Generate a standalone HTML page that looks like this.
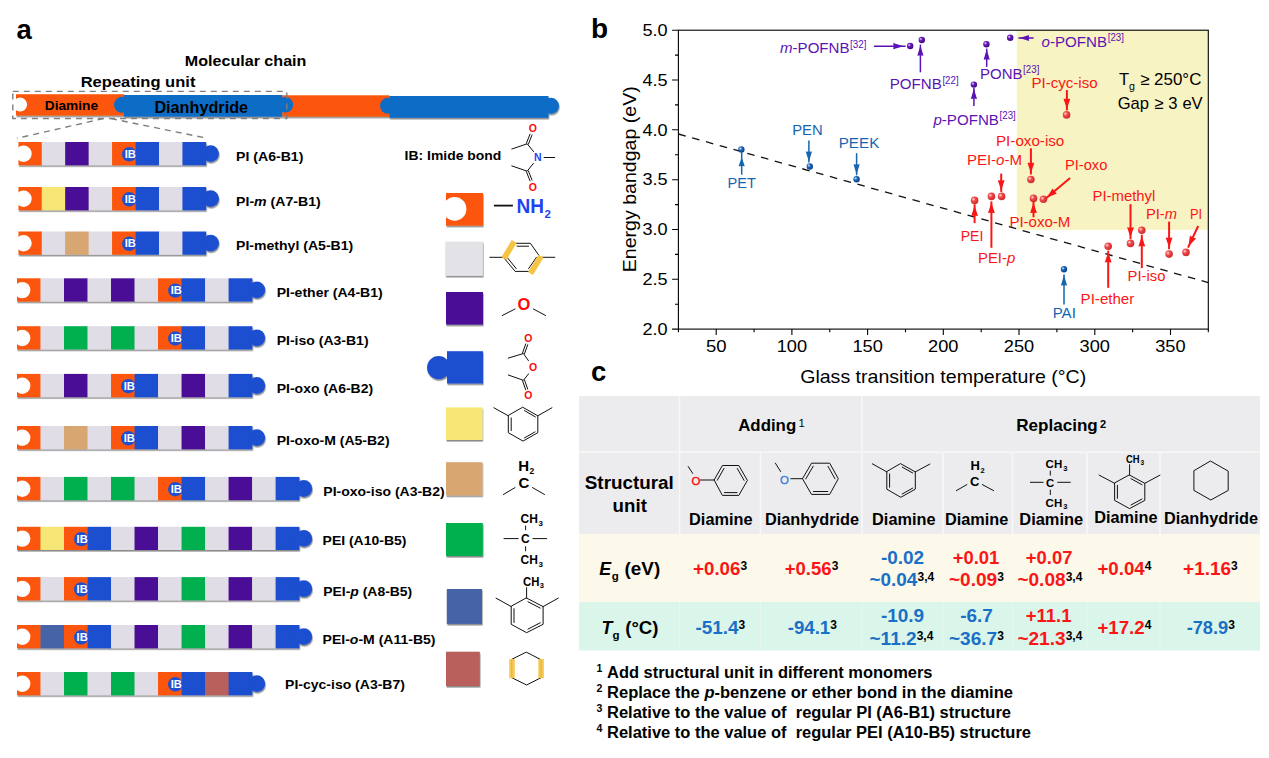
<!DOCTYPE html>
<html><head><meta charset="utf-8"><title>figure</title>
<style>
html,body{margin:0;padding:0;background:#fff;}
body{width:1269px;height:758px;overflow:hidden;font-family:"Liberation Sans",sans-serif;}
svg{display:block;font-family:"Liberation Sans",sans-serif;}
.b{font-weight:bold}
.i{font-style:italic}
</style></head><body>
<svg width="1269" height="758" viewBox="0 0 1269 758">
<defs>
<filter id="sh" x="-5%" y="-20%" width="110%" height="150%"><feDropShadow dx="0.6" dy="1.6" stdDeviation="0.7" flood-color="#000" flood-opacity="0.45"/></filter>
<radialGradient id="gp" cx="35%" cy="35%" r="65%"><stop offset="0" stop-color="#e8d8ff"/><stop offset="0.4" stop-color="#6a1ab8"/><stop offset="1" stop-color="#400a88"/></radialGradient>
<radialGradient id="gb" cx="35%" cy="35%" r="65%"><stop offset="0" stop-color="#d8ecff"/><stop offset="0.4" stop-color="#1b64b8"/><stop offset="1" stop-color="#0d4690"/></radialGradient>
<radialGradient id="gr" cx="35%" cy="35%" r="65%"><stop offset="0" stop-color="#ffe0e0"/><stop offset="0.4" stop-color="#f04a4a"/><stop offset="1" stop-color="#d02c2c"/></radialGradient>
</defs>
<rect width="1269" height="758" fill="#fff"/>

<g id="panelA">
<text x="16.5" y="38.8" class="b" font-size="27.5">a</text>
<text x="184.8" y="65.6" class="b" font-size="15.5" textLength="121.6" lengthAdjust="spacingAndGlyphs">Molecular chain</text>
<text x="80.7" y="87" class="b" font-size="15.5" textLength="114.7" lengthAdjust="spacingAndGlyphs">Repeating unit</text>
<g filter="url(#sh)">
<rect x="282.3" y="95.3" width="107.1" height="21.3" fill="#fc5409"/>
<path d="M16 94.2H124.2V115.4H16Z" fill="#fc5409"/>
<circle cx="122" cy="104.8" r="8" fill="#0a6cc6"/><rect x="124" y="95" width="158.2" height="21.7" fill="#0a6cc6"/><circle cx="285.3" cy="104.8" r="7.8" fill="#0a6cc6"/>
<circle cx="388" cy="105.8" r="8" fill="#0a6cc6"/><rect x="389.4" y="96" width="159.1" height="21.8" fill="#0a6cc6"/><circle cx="551" cy="105.8" r="8" fill="#0a6cc6"/>
</g>
<circle cx="20.1" cy="104.6" r="7" fill="#fff"/><rect x="8" y="92" width="8" height="26" fill="#fff"/>
<text x="44.8" y="109.6" class="b" font-size="13.4" textLength="53.3" lengthAdjust="spacingAndGlyphs" fill="#000">Diamine</text>
<text x="154.4" y="112.5" class="b" font-size="16" textLength="93.7" lengthAdjust="spacingAndGlyphs" fill="#000">Dianhydride</text>
<rect x="12.8" y="91.4" width="274" height="27.1" fill="none" stroke="#7f7f7f" stroke-width="1.4" stroke-dasharray="6 5"/>
<path d="M103.4 118.6L17 138.3M111 118.6L207.4 138.3" fill="none" stroke="#7f7f7f" stroke-width="1.4" stroke-dasharray="6 5"/>
<g filter="url(#sh)">
<rect x="18.30" y="142.0" width="23.75" height="23.2" fill="#fc5409"/>
<rect x="41.75" y="142.0" width="23.75" height="23.2" fill="#e0dde6"/>
<rect x="65.20" y="142.0" width="23.75" height="23.2" fill="#4a1096"/>
<rect x="88.65" y="142.0" width="23.75" height="23.2" fill="#e0dde6"/>
<rect x="112.10" y="142.0" width="23.75" height="23.2" fill="#fc5409"/>
<rect x="135.55" y="142.0" width="23.75" height="23.2" fill="#1f4fcf"/>
<rect x="159.00" y="142.0" width="23.75" height="23.2" fill="#e0dde6"/>
<rect x="182.45" y="142.0" width="23.75" height="23.2" fill="#1f4fcf"/>
<circle cx="210.60" cy="153.60" r="8.4" fill="#1f4fcf"/>
</g>
<circle cx="23.50" cy="153.80" r="8.2" fill="#fff"/><rect x="12.30" y="140.0" width="6" height="29.2" fill="#fff"/>
<circle cx="129.25" cy="154.30" r="7.2" fill="#1f4fcf"/>
<text x="124.65" y="157.80" class="b" font-size="10.4" fill="#fff" textLength="11.2" lengthAdjust="spacingAndGlyphs">IB</text>
<text x="236.1" y="160.6" class="b" font-size="13.6" textLength="67.3" lengthAdjust="spacingAndGlyphs">PI (A6-B1)</text>
<g filter="url(#sh)">
<rect x="18.30" y="187.0" width="23.75" height="23.2" fill="#fc5409"/>
<rect x="41.75" y="187.0" width="23.75" height="23.2" fill="#f6e676"/>
<rect x="65.20" y="187.0" width="23.75" height="23.2" fill="#4a1096"/>
<rect x="88.65" y="187.0" width="23.75" height="23.2" fill="#e0dde6"/>
<rect x="112.10" y="187.0" width="23.75" height="23.2" fill="#fc5409"/>
<rect x="135.55" y="187.0" width="23.75" height="23.2" fill="#1f4fcf"/>
<rect x="159.00" y="187.0" width="23.75" height="23.2" fill="#e0dde6"/>
<rect x="182.45" y="187.0" width="23.75" height="23.2" fill="#1f4fcf"/>
<circle cx="210.60" cy="198.60" r="8.4" fill="#1f4fcf"/>
</g>
<circle cx="23.50" cy="198.80" r="8.2" fill="#fff"/><rect x="12.30" y="185.0" width="6" height="29.2" fill="#fff"/>
<circle cx="129.25" cy="199.30" r="7.2" fill="#1f4fcf"/>
<text x="124.65" y="202.80" class="b" font-size="10.4" fill="#fff" textLength="11.2" lengthAdjust="spacingAndGlyphs">IB</text>
<text x="236.1" y="205.8" class="b" font-size="13.6" textLength="84.6" lengthAdjust="spacingAndGlyphs">PI-<tspan class="i">m</tspan> (A7-B1)</text>
<g filter="url(#sh)">
<rect x="18.30" y="231.5" width="23.75" height="23.2" fill="#fc5409"/>
<rect x="41.75" y="231.5" width="23.75" height="23.2" fill="#e0dde6"/>
<rect x="65.20" y="231.5" width="23.75" height="23.2" fill="#d7a671"/>
<rect x="88.65" y="231.5" width="23.75" height="23.2" fill="#e0dde6"/>
<rect x="112.10" y="231.5" width="23.75" height="23.2" fill="#fc5409"/>
<rect x="135.55" y="231.5" width="23.75" height="23.2" fill="#1f4fcf"/>
<rect x="159.00" y="231.5" width="23.75" height="23.2" fill="#e0dde6"/>
<rect x="182.45" y="231.5" width="23.75" height="23.2" fill="#1f4fcf"/>
<circle cx="210.60" cy="243.10" r="8.4" fill="#1f4fcf"/>
</g>
<circle cx="23.50" cy="243.30" r="8.2" fill="#fff"/><rect x="12.30" y="229.5" width="6" height="29.2" fill="#fff"/>
<circle cx="129.25" cy="243.80" r="7.2" fill="#1f4fcf"/>
<text x="124.65" y="247.30" class="b" font-size="10.4" fill="#fff" textLength="11.2" lengthAdjust="spacingAndGlyphs">IB</text>
<text x="236.1" y="249.8" class="b" font-size="13.6" textLength="117.1" lengthAdjust="spacingAndGlyphs">PI-methyl (A5-B1)</text>
<g filter="url(#sh)">
<rect x="17.00" y="278.3" width="23.81" height="23.2" fill="#fc5409"/>
<rect x="40.51" y="278.3" width="23.81" height="23.2" fill="#e0dde6"/>
<rect x="64.02" y="278.3" width="23.81" height="23.2" fill="#4a1096"/>
<rect x="87.53" y="278.3" width="23.81" height="23.2" fill="#e0dde6"/>
<rect x="111.04" y="278.3" width="23.81" height="23.2" fill="#4a1096"/>
<rect x="134.55" y="278.3" width="23.81" height="23.2" fill="#e0dde6"/>
<rect x="158.06" y="278.3" width="23.81" height="23.2" fill="#fc5409"/>
<rect x="181.57" y="278.3" width="23.81" height="23.2" fill="#1f4fcf"/>
<rect x="205.08" y="278.3" width="23.81" height="23.2" fill="#e0dde6"/>
<rect x="228.59" y="278.3" width="23.81" height="23.2" fill="#1f4fcf"/>
<circle cx="256.80" cy="289.90" r="8.4" fill="#1f4fcf"/>
</g>
<circle cx="22.20" cy="290.10" r="8.2" fill="#fff"/><rect x="11.00" y="276.3" width="6" height="29.2" fill="#fff"/>
<circle cx="175.27" cy="290.60" r="7.2" fill="#1f4fcf"/>
<text x="170.67" y="294.10" class="b" font-size="10.4" fill="#fff" textLength="11.2" lengthAdjust="spacingAndGlyphs">IB</text>
<text x="276.7" y="297.3" class="b" font-size="13.6" textLength="106" lengthAdjust="spacingAndGlyphs">PI-ether (A4-B1)</text>
<g filter="url(#sh)">
<rect x="17.00" y="326.2" width="23.81" height="23.2" fill="#fc5409"/>
<rect x="40.51" y="326.2" width="23.81" height="23.2" fill="#e0dde6"/>
<rect x="64.02" y="326.2" width="23.81" height="23.2" fill="#00b050"/>
<rect x="87.53" y="326.2" width="23.81" height="23.2" fill="#e0dde6"/>
<rect x="111.04" y="326.2" width="23.81" height="23.2" fill="#00b050"/>
<rect x="134.55" y="326.2" width="23.81" height="23.2" fill="#e0dde6"/>
<rect x="158.06" y="326.2" width="23.81" height="23.2" fill="#fc5409"/>
<rect x="181.57" y="326.2" width="23.81" height="23.2" fill="#1f4fcf"/>
<rect x="205.08" y="326.2" width="23.81" height="23.2" fill="#e0dde6"/>
<rect x="228.59" y="326.2" width="23.81" height="23.2" fill="#1f4fcf"/>
<circle cx="256.80" cy="337.80" r="8.4" fill="#1f4fcf"/>
</g>
<circle cx="22.20" cy="338.00" r="8.2" fill="#fff"/><rect x="11.00" y="324.2" width="6" height="29.2" fill="#fff"/>
<circle cx="175.27" cy="338.50" r="7.2" fill="#1f4fcf"/>
<text x="170.67" y="342.00" class="b" font-size="10.4" fill="#fff" textLength="11.2" lengthAdjust="spacingAndGlyphs">IB</text>
<text x="276.7" y="345.1" class="b" font-size="13.6" textLength="91.9" lengthAdjust="spacingAndGlyphs">PI-iso (A3-B1)</text>
<g filter="url(#sh)">
<rect x="17.00" y="373.9" width="23.81" height="23.2" fill="#fc5409"/>
<rect x="40.51" y="373.9" width="23.81" height="23.2" fill="#e0dde6"/>
<rect x="64.02" y="373.9" width="23.81" height="23.2" fill="#4a1096"/>
<rect x="87.53" y="373.9" width="23.81" height="23.2" fill="#e0dde6"/>
<rect x="111.04" y="373.9" width="23.81" height="23.2" fill="#fc5409"/>
<rect x="134.55" y="373.9" width="23.81" height="23.2" fill="#1f4fcf"/>
<rect x="158.06" y="373.9" width="23.81" height="23.2" fill="#e0dde6"/>
<rect x="181.57" y="373.9" width="23.81" height="23.2" fill="#4a1096"/>
<rect x="205.08" y="373.9" width="23.81" height="23.2" fill="#e0dde6"/>
<rect x="228.59" y="373.9" width="23.81" height="23.2" fill="#1f4fcf"/>
<circle cx="256.80" cy="385.50" r="8.4" fill="#1f4fcf"/>
</g>
<circle cx="22.20" cy="385.70" r="8.2" fill="#fff"/><rect x="11.00" y="371.9" width="6" height="29.2" fill="#fff"/>
<circle cx="128.25" cy="386.20" r="7.2" fill="#1f4fcf"/>
<text x="123.65" y="389.70" class="b" font-size="10.4" fill="#fff" textLength="11.2" lengthAdjust="spacingAndGlyphs">IB</text>
<text x="276.7" y="393" class="b" font-size="13.6" textLength="96.5" lengthAdjust="spacingAndGlyphs">PI-oxo (A6-B2)</text>
<g filter="url(#sh)">
<rect x="17.00" y="426.0" width="23.81" height="23.2" fill="#fc5409"/>
<rect x="40.51" y="426.0" width="23.81" height="23.2" fill="#e0dde6"/>
<rect x="64.02" y="426.0" width="23.81" height="23.2" fill="#d7a671"/>
<rect x="87.53" y="426.0" width="23.81" height="23.2" fill="#e0dde6"/>
<rect x="111.04" y="426.0" width="23.81" height="23.2" fill="#fc5409"/>
<rect x="134.55" y="426.0" width="23.81" height="23.2" fill="#1f4fcf"/>
<rect x="158.06" y="426.0" width="23.81" height="23.2" fill="#e0dde6"/>
<rect x="181.57" y="426.0" width="23.81" height="23.2" fill="#4a1096"/>
<rect x="205.08" y="426.0" width="23.81" height="23.2" fill="#e0dde6"/>
<rect x="228.59" y="426.0" width="23.81" height="23.2" fill="#1f4fcf"/>
<circle cx="256.80" cy="437.60" r="8.4" fill="#1f4fcf"/>
</g>
<circle cx="22.20" cy="437.80" r="8.2" fill="#fff"/><rect x="11.00" y="424.0" width="6" height="29.2" fill="#fff"/>
<circle cx="128.25" cy="438.30" r="7.2" fill="#1f4fcf"/>
<text x="123.65" y="441.80" class="b" font-size="10.4" fill="#fff" textLength="11.2" lengthAdjust="spacingAndGlyphs">IB</text>
<text x="276.7" y="445.1" class="b" font-size="13.6" textLength="112.9" lengthAdjust="spacingAndGlyphs">PI-oxo-M (A5-B2)</text>
<g filter="url(#sh)">
<rect x="17.00" y="476.9" width="23.81" height="23.2" fill="#fc5409"/>
<rect x="40.51" y="476.9" width="23.81" height="23.2" fill="#e0dde6"/>
<rect x="64.02" y="476.9" width="23.81" height="23.2" fill="#00b050"/>
<rect x="87.53" y="476.9" width="23.81" height="23.2" fill="#e0dde6"/>
<rect x="111.04" y="476.9" width="23.81" height="23.2" fill="#00b050"/>
<rect x="134.55" y="476.9" width="23.81" height="23.2" fill="#e0dde6"/>
<rect x="158.06" y="476.9" width="23.81" height="23.2" fill="#fc5409"/>
<rect x="181.57" y="476.9" width="23.81" height="23.2" fill="#1f4fcf"/>
<rect x="205.08" y="476.9" width="23.81" height="23.2" fill="#e0dde6"/>
<rect x="228.59" y="476.9" width="23.81" height="23.2" fill="#4a1096"/>
<rect x="252.10" y="476.9" width="23.81" height="23.2" fill="#e0dde6"/>
<rect x="275.61" y="476.9" width="23.81" height="23.2" fill="#1f4fcf"/>
<circle cx="303.82" cy="488.50" r="8.4" fill="#1f4fcf"/>
</g>
<circle cx="22.20" cy="488.70" r="8.2" fill="#fff"/><rect x="11.00" y="474.9" width="6" height="29.2" fill="#fff"/>
<circle cx="175.27" cy="489.20" r="7.2" fill="#1f4fcf"/>
<text x="170.67" y="492.70" class="b" font-size="10.4" fill="#fff" textLength="11.2" lengthAdjust="spacingAndGlyphs">IB</text>
<text x="323.3" y="496.2" class="b" font-size="13.6" textLength="121.4" lengthAdjust="spacingAndGlyphs">PI-oxo-iso (A3-B2)</text>
<g filter="url(#sh)">
<rect x="17.00" y="526.8" width="23.81" height="23.2" fill="#fc5409"/>
<rect x="40.51" y="526.8" width="23.81" height="23.2" fill="#f6e676"/>
<rect x="64.02" y="526.8" width="23.81" height="23.2" fill="#fc5409"/>
<rect x="87.53" y="526.8" width="23.81" height="23.2" fill="#1f4fcf"/>
<rect x="111.04" y="526.8" width="23.81" height="23.2" fill="#e0dde6"/>
<rect x="134.55" y="526.8" width="23.81" height="23.2" fill="#4a1096"/>
<rect x="158.06" y="526.8" width="23.81" height="23.2" fill="#e0dde6"/>
<rect x="181.57" y="526.8" width="23.81" height="23.2" fill="#00b050"/>
<rect x="205.08" y="526.8" width="23.81" height="23.2" fill="#e0dde6"/>
<rect x="228.59" y="526.8" width="23.81" height="23.2" fill="#4a1096"/>
<rect x="252.10" y="526.8" width="23.81" height="23.2" fill="#e0dde6"/>
<rect x="275.61" y="526.8" width="23.81" height="23.2" fill="#1f4fcf"/>
<circle cx="303.82" cy="538.40" r="8.4" fill="#1f4fcf"/>
</g>
<circle cx="22.20" cy="538.60" r="8.2" fill="#fff"/><rect x="11.00" y="524.8" width="6" height="29.2" fill="#fff"/>
<circle cx="81.23" cy="539.10" r="7.2" fill="#1f4fcf"/>
<text x="76.63" y="542.60" class="b" font-size="10.4" fill="#fff" textLength="11.2" lengthAdjust="spacingAndGlyphs">IB</text>
<text x="322.6" y="545.4" class="b" font-size="13.6" textLength="83.8" lengthAdjust="spacingAndGlyphs">PEI (A10-B5)</text>
<g filter="url(#sh)">
<rect x="17.00" y="577.1" width="23.81" height="23.2" fill="#fc5409"/>
<rect x="40.51" y="577.1" width="23.81" height="23.2" fill="#e0dde6"/>
<rect x="64.02" y="577.1" width="23.81" height="23.2" fill="#fc5409"/>
<rect x="87.53" y="577.1" width="23.81" height="23.2" fill="#1f4fcf"/>
<rect x="111.04" y="577.1" width="23.81" height="23.2" fill="#e0dde6"/>
<rect x="134.55" y="577.1" width="23.81" height="23.2" fill="#4a1096"/>
<rect x="158.06" y="577.1" width="23.81" height="23.2" fill="#e0dde6"/>
<rect x="181.57" y="577.1" width="23.81" height="23.2" fill="#00b050"/>
<rect x="205.08" y="577.1" width="23.81" height="23.2" fill="#e0dde6"/>
<rect x="228.59" y="577.1" width="23.81" height="23.2" fill="#4a1096"/>
<rect x="252.10" y="577.1" width="23.81" height="23.2" fill="#e0dde6"/>
<rect x="275.61" y="577.1" width="23.81" height="23.2" fill="#1f4fcf"/>
<circle cx="303.82" cy="588.70" r="8.4" fill="#1f4fcf"/>
</g>
<circle cx="22.20" cy="588.90" r="8.2" fill="#fff"/><rect x="11.00" y="575.1" width="6" height="29.2" fill="#fff"/>
<circle cx="81.23" cy="589.40" r="7.2" fill="#1f4fcf"/>
<text x="76.63" y="592.90" class="b" font-size="10.4" fill="#fff" textLength="11.2" lengthAdjust="spacingAndGlyphs">IB</text>
<text x="323.3" y="595.5" class="b" font-size="13.6" textLength="88.9" lengthAdjust="spacingAndGlyphs">PEI-<tspan class="i">p</tspan> (A8-B5)</text>
<g filter="url(#sh)">
<rect x="17.00" y="625.0" width="23.81" height="23.2" fill="#fc5409"/>
<rect x="40.51" y="625.0" width="23.81" height="23.2" fill="#4763a8"/>
<rect x="64.02" y="625.0" width="23.81" height="23.2" fill="#fc5409"/>
<rect x="87.53" y="625.0" width="23.81" height="23.2" fill="#1f4fcf"/>
<rect x="111.04" y="625.0" width="23.81" height="23.2" fill="#e0dde6"/>
<rect x="134.55" y="625.0" width="23.81" height="23.2" fill="#4a1096"/>
<rect x="158.06" y="625.0" width="23.81" height="23.2" fill="#e0dde6"/>
<rect x="181.57" y="625.0" width="23.81" height="23.2" fill="#00b050"/>
<rect x="205.08" y="625.0" width="23.81" height="23.2" fill="#e0dde6"/>
<rect x="228.59" y="625.0" width="23.81" height="23.2" fill="#4a1096"/>
<rect x="252.10" y="625.0" width="23.81" height="23.2" fill="#e0dde6"/>
<rect x="275.61" y="625.0" width="23.81" height="23.2" fill="#1f4fcf"/>
<circle cx="303.82" cy="636.60" r="8.4" fill="#1f4fcf"/>
</g>
<circle cx="22.20" cy="636.80" r="8.2" fill="#fff"/><rect x="11.00" y="623.0" width="6" height="29.2" fill="#fff"/>
<circle cx="81.23" cy="637.30" r="7.2" fill="#1f4fcf"/>
<text x="76.63" y="640.80" class="b" font-size="10.4" fill="#fff" textLength="11.2" lengthAdjust="spacingAndGlyphs">IB</text>
<text x="322.6" y="643.5" class="b" font-size="13.6" textLength="112.9" lengthAdjust="spacingAndGlyphs">PEI-<tspan class="i">o</tspan>-M (A11-B5)</text>
<g filter="url(#sh)">
<rect x="17.00" y="672.0" width="23.81" height="23.2" fill="#fc5409"/>
<rect x="40.51" y="672.0" width="23.81" height="23.2" fill="#e0dde6"/>
<rect x="64.02" y="672.0" width="23.81" height="23.2" fill="#00b050"/>
<rect x="87.53" y="672.0" width="23.81" height="23.2" fill="#e0dde6"/>
<rect x="111.04" y="672.0" width="23.81" height="23.2" fill="#00b050"/>
<rect x="134.55" y="672.0" width="23.81" height="23.2" fill="#e0dde6"/>
<rect x="158.06" y="672.0" width="23.81" height="23.2" fill="#fc5409"/>
<rect x="181.57" y="672.0" width="23.81" height="23.2" fill="#1f4fcf"/>
<rect x="205.08" y="672.0" width="23.81" height="23.2" fill="#b95e5c"/>
<rect x="228.59" y="672.0" width="23.81" height="23.2" fill="#1f4fcf"/>
<circle cx="256.80" cy="683.60" r="8.4" fill="#1f4fcf"/>
</g>
<circle cx="22.20" cy="683.80" r="8.2" fill="#fff"/><rect x="11.00" y="670.0" width="6" height="29.2" fill="#fff"/>
<circle cx="175.27" cy="684.30" r="7.2" fill="#1f4fcf"/>
<text x="170.67" y="687.80" class="b" font-size="10.4" fill="#fff" textLength="11.2" lengthAdjust="spacingAndGlyphs">IB</text>
<text x="285.1" y="689.1" class="b" font-size="13.6" textLength="119.8" lengthAdjust="spacingAndGlyphs">PI-cyc-iso (A3-B7)</text>
</g>
<g id="legend">
<text x="404.6" y="160" class="b" font-size="13.6" textLength="96.7" lengthAdjust="spacingAndGlyphs">IB: Imide bond</text>
<g filter="url(#sh)">
<rect x="446" y="193" width="37" height="32.6" fill="#fc5409"/>
<rect x="445.4" y="241.5" width="37.5" height="34.3" fill="#e3e3e7"/>
<rect x="446" y="292" width="37" height="32.6" fill="#4a1096"/>
<circle cx="438.6" cy="367.6" r="11.6" fill="#1f4fcf"/><rect x="447" y="351.2" width="36" height="32.3" fill="#1f4fcf"/>
<rect x="446" y="407.4" width="36.4" height="32.6" fill="#f6e676"/>
<rect x="446" y="462.2" width="36.4" height="33.2" fill="#d7a671"/>
<rect x="446" y="523" width="36.8" height="33" fill="#00b050"/>
<rect x="446.8" y="589" width="35.2" height="34.9" fill="#4763a8"/>
<rect x="446" y="651.7" width="33.8" height="34.3" fill="#b95e5c"/>
</g>
<circle cx="454.6" cy="208.9" r="11.8" fill="#fff"/><rect x="436" y="190" width="10" height="40" fill="#fff"/>
<path d="M511.8 149L527.2 143.8L533.6 151.6M526.4 143.3L530 134.2M528.4 144.1L532 135M544.1 157.5H554.7M533.4 163.4L527.2 171.2L511.8 165.9M526.4 171.7L530 180.8M528.4 170.9L532 180" stroke="#111" stroke-width="1" fill="none" stroke-linecap="round"/>
<text x="532.9" y="132.2" class="b" font-size="10.5" fill="#fa0a0a" text-anchor="middle">O</text>
<text x="532.9" y="190.8" class="b" font-size="10.5" fill="#fa0a0a" text-anchor="middle">O</text>
<text x="537.8" y="161.3" class="b" font-size="10.5" fill="#1f45f0" text-anchor="middle">N</text>
<path d="M493.9 205.6H512.9" stroke="#111" stroke-width="1.8" fill="none"/>
<text x="516.6" y="213.4" class="b" font-size="19.5" fill="#1f45f0" textLength="27.5" lengthAdjust="spacingAndGlyphs">NH</text><text x="544.4" y="217.6" class="b" font-size="11.5" fill="#1f45f0">2</text>
<path d="M489.8 257.3H503.4L515.2 243.3H530.4L540.3 257.3L530.4 271.4H515.2L503.4 257.3M540.3 257.3H554.8M517 246.2H528.6M507.3 257.6L516.2 268.6M536.4 257.4L528.6 268.6" stroke="#111" stroke-width="1" fill="none" stroke-linecap="round"/>
<path d="M514.2 241.6L504 258.4M541 256.3L530.5 273.4" stroke="#f6c344" stroke-width="5.8" fill="none"/>
<path d="M502.3 315.5L515 309M533.4 309L545.6 315.5" stroke="#111" stroke-width="1" fill="none" stroke-linecap="round"/>
<text x="524" y="309.6" class="b" font-size="16.5" fill="#fa0a0a" text-anchor="middle">O</text>
<path d="M508.3 358.1L523.4 353.5L528.4 360.6M522.5 353.1L525.7 344M524.5 353.8L527.7 344.7M528.6 373.8L523.4 380.3L508.3 375M522.5 380.7L525.7 389.8M524.5 380L527.7 389.1" stroke="#111" stroke-width="1" fill="none" stroke-linecap="round"/>
<text x="528.4" y="342.2" class="b" font-size="10.5" fill="#fa0a0a" text-anchor="middle">O</text>
<text x="533" y="371" class="b" font-size="10.5" fill="#fa0a0a" text-anchor="middle">O</text>
<text x="528.4" y="398.8" class="b" font-size="10.5" fill="#fa0a0a" text-anchor="middle">O</text>
<path d="M523 407.4L537.8 415.8V432.7L523 441.1L508.3 432.7V415.8ZM508.3 415.8L493.9 407.8M537.8 415.8L551.9 407.8M511.2 417.9V430.6M524.5 410.6L535.4 416.9M524.5 437.9L535 431.9" stroke="#111" stroke-width="1" fill="none" stroke-linecap="round"/>
<text x="518.2" y="470.7" class="b" font-size="15">H</text><text x="529.6" y="473.8" class="b" font-size="8.5">2</text>
<text x="518.6" y="488.2" class="b" font-size="15">C</text>
<path d="M503.4 494.5L515 487.6M532.5 487.6L544.5 494.5" stroke="#111" stroke-width="1" fill="none" stroke-linecap="round"/>
<text x="520.6" y="522.9" class="b" font-size="12" textLength="17.4" lengthAdjust="spacingAndGlyphs">CH</text><text x="538.6" y="525.6" class="b" font-size="8">3</text>
<text x="521" y="543" class="b" font-size="12">C</text>
<text x="520.6" y="563.8" class="b" font-size="12" textLength="17.4" lengthAdjust="spacingAndGlyphs">CH</text><text x="538.6" y="566.5" class="b" font-size="8">3</text>
<path d="M504 538.6H518.2M532.9 538.6H546.7M525.6 526V529.8M525.6 546.7V550.9" stroke="#111" stroke-width="1" fill="none" stroke-linecap="round"/>
<text x="523" y="585.5" class="b" font-size="12" textLength="16.4" lengthAdjust="spacingAndGlyphs">CH</text><text x="539.8" y="588" class="b" font-size="7.5">3</text>
<path d="M526.6 598.1L543.1 606.6V624.3L526.6 632.7L511.2 624.3V606.6ZM526.6 598.1V587.6M511.2 606.6L496 598.1M543.1 606.6L558.3 598.1M514 608.7V622.5M528 601.8L540.3 608.1M528 629.1L540.3 622.8" stroke="#111" stroke-width="1" fill="none" stroke-linecap="round"/>
<path d="M526.6 652.3L541 659.7V677.7L526.6 685L511.8 677.7V659.7Z" stroke="#111" stroke-width="1" fill="none" stroke-linecap="round"/>
<path d="M512 658.9V678.3M541.1 658.9V678.3" stroke="#f6c344" stroke-width="5.6" fill="none" opacity="0.9"/>
</g>
<g id="chart">
<text x="591" y="38" class="b" font-size="28">b</text>
<rect x="1016.8" y="30.2" width="191.5" height="199.6" fill="#f8f3c2"/>
<path d="M678.4 134L1208.3 282.6" stroke="#111" stroke-width="1.3" stroke-dasharray="7.6 6.7" fill="none"/>
<rect x="678.4" y="30.2" width="529.9" height="298.9" fill="none" stroke="#000" stroke-width="1.1"/>
<path d="M678.4 329.1h-6.3M678.4 304.2h-3.4M678.4 279.3h-6.3M678.4 254.4h-3.4M678.4 229.5h-6.3M678.4 204.6h-3.4M678.4 179.7h-6.3M678.4 154.7h-3.4M678.4 129.8h-6.3M678.4 104.9h-3.4M678.4 80.0h-6.3M678.4 55.1h-3.4M678.4 30.2h-6.3M678.4 329.1v3.2M716.2 329.1v5.8M754.1 329.1v3.2M791.9 329.1v5.8M829.8 329.1v3.2M867.6 329.1v5.8M905.5 329.1v3.2M943.3 329.1v5.8M981.2 329.1v3.2M1019.0 329.1v5.8M1056.9 329.1v3.2M1094.8 329.1v5.8M1132.6 329.1v3.2M1170.5 329.1v5.8M1208.3 329.1v3.2" stroke="#000" stroke-width="1.1" fill="none"/>
<text x="642.5" y="334.8" font-size="16.6" textLength="25.2" lengthAdjust="spacingAndGlyphs">2.0</text>
<text x="642.5" y="285.0" font-size="16.6" textLength="25.2" lengthAdjust="spacingAndGlyphs">2.5</text>
<text x="642.5" y="235.2" font-size="16.6" textLength="25.2" lengthAdjust="spacingAndGlyphs">3.0</text>
<text x="642.5" y="185.3" font-size="16.6" textLength="25.2" lengthAdjust="spacingAndGlyphs">3.5</text>
<text x="642.5" y="135.5" font-size="16.6" textLength="25.2" lengthAdjust="spacingAndGlyphs">4.0</text>
<text x="642.5" y="85.7" font-size="16.6" textLength="25.2" lengthAdjust="spacingAndGlyphs">4.5</text>
<text x="642.5" y="35.9" font-size="16.6" textLength="25.2" lengthAdjust="spacingAndGlyphs">5.0</text>
<text x="706.0" y="352.4" font-size="16.6" textLength="20.6" lengthAdjust="spacingAndGlyphs">50</text>
<text x="776.7" y="352.4" font-size="16.6" textLength="30.4" lengthAdjust="spacingAndGlyphs">100</text>
<text x="852.4" y="352.4" font-size="16.6" textLength="30.4" lengthAdjust="spacingAndGlyphs">150</text>
<text x="928.1" y="352.4" font-size="16.6" textLength="30.4" lengthAdjust="spacingAndGlyphs">200</text>
<text x="1003.8" y="352.4" font-size="16.6" textLength="30.4" lengthAdjust="spacingAndGlyphs">250</text>
<text x="1079.5" y="352.4" font-size="16.6" textLength="30.4" lengthAdjust="spacingAndGlyphs">300</text>
<text x="1155.2" y="352.4" font-size="16.6" textLength="30.4" lengthAdjust="spacingAndGlyphs">350</text>
<text x="800.2" y="382.8" font-size="18.5" textLength="286" lengthAdjust="spacingAndGlyphs">Glass transition temperature (°C)</text>
<text transform="translate(635.8 272.3) rotate(-90)" font-size="18.5" textLength="186" lengthAdjust="spacingAndGlyphs">Energy bandgap (eV)</text>
<text x="780" y="53.3" font-size="14.4" fill="#5c12b4" textLength="69.5" lengthAdjust="spacingAndGlyphs"><tspan class="i">m</tspan>-POFNB</text>
<text x="850.1" y="47.9" font-size="10" fill="#5c12b4" textLength="16.3" lengthAdjust="spacingAndGlyphs">[32]</text>
<path d="M873.9 46.2L905.6 46.2" stroke="#5c12b4" stroke-width="1.5" fill="none"/>
<path d="M903.5 46.2L893.2 49.3L893.6 46.2L893.2 43.1Z" fill="#5c12b4"/>
<circle cx="910.2" cy="46" r="3.2" fill="url(#gp)"/>
<circle cx="921.8" cy="40" r="3.2" fill="url(#gp)"/>
<path d="M920.4 72.3L920.4 44.6" stroke="#5c12b4" stroke-width="1.5" fill="none"/>
<path d="M920.4 45.4L923.5 55.7L920.4 55.3L917.3 55.7Z" fill="#5c12b4"/>
<text x="889.8" y="89.2" font-size="14.4" fill="#5c12b4" textLength="52" lengthAdjust="spacingAndGlyphs">POFNB</text>
<text x="942.4" y="83.8" font-size="10" fill="#5c12b4" textLength="16.3" lengthAdjust="spacingAndGlyphs">[22]</text>
<circle cx="986.4" cy="44.2" r="3.2" fill="url(#gp)"/>
<path d="M986.7 66.9L986.7 48.6" stroke="#5c12b4" stroke-width="1.5" fill="none"/>
<path d="M986.7 49.4L989.8 59.7L986.7 59.3L983.6 59.7Z" fill="#5c12b4"/>
<text x="980" y="78.5" font-size="14.4" fill="#5c12b4" textLength="42.5" lengthAdjust="spacingAndGlyphs">PONB</text>
<text x="1023.1" y="73.1" font-size="10" fill="#5c12b4" textLength="16.3" lengthAdjust="spacingAndGlyphs">[23]</text>
<circle cx="1010.2" cy="37.8" r="3.2" fill="url(#gp)"/>
<path d="M1033.6 38.0L1018.4 38.0" stroke="#5c12b4" stroke-width="1.5" fill="none"/>
<path d="M1019.6 38.0L1029.1 34.9L1028.7 38.0L1029.1 41.1Z" fill="#5c12b4"/>
<text x="1041.6" y="46.5" font-size="14.4" fill="#5c12b4" textLength="65.5" lengthAdjust="spacingAndGlyphs"><tspan class="i">o</tspan>-POFNB</text>
<text x="1107.7" y="41.1" font-size="10" fill="#5c12b4" textLength="16.3" lengthAdjust="spacingAndGlyphs">[23]</text>
<circle cx="973.9" cy="84.6" r="3.2" fill="url(#gp)"/>
<path d="M973.9 106.0L973.9 87.9" stroke="#5c12b4" stroke-width="1.5" fill="none"/>
<path d="M973.9 88.7L977.0 99.0L973.9 98.6L970.8 99.0Z" fill="#5c12b4"/>
<text x="933.4" y="124.5" font-size="14.4" fill="#5c12b4" textLength="65.5" lengthAdjust="spacingAndGlyphs"><tspan class="i">p</tspan>-POFNB</text>
<text x="999.5" y="119.1" font-size="10" fill="#5c12b4" textLength="16.3" lengthAdjust="spacingAndGlyphs">[23]</text>
<circle cx="741.4" cy="149.5" r="3.2" fill="url(#gb)"/>
<path d="M741.7 174.7L741.7 152.3" stroke="#1565b0" stroke-width="1.5" fill="none"/>
<path d="M741.7 157.3L744.8 166.3L741.7 165.9L738.6 166.3Z" fill="#1565b0"/>
<text x="727.5" y="187.8" font-size="14.4" fill="#1565b0" textLength="28.4" lengthAdjust="spacingAndGlyphs">PET</text>
<circle cx="809.8" cy="166.5" r="3.2" fill="url(#gb)"/>
<path d="M808.9 140.4L808.9 162.5" stroke="#1565b0" stroke-width="1.5" fill="none"/>
<path d="M808.9 161.7L805.8 151.4L808.9 151.8L812.0 151.4Z" fill="#1565b0"/>
<text x="792.2" y="134.8" font-size="14.4" fill="#1565b0" textLength="30.4" lengthAdjust="spacingAndGlyphs">PEN</text>
<circle cx="856.6" cy="179.3" r="3.2" fill="url(#gb)"/>
<path d="M856.6 153.2L856.6 175.3" stroke="#1565b0" stroke-width="1.5" fill="none"/>
<path d="M856.6 174.5L853.5 164.2L856.6 164.6L859.7 164.2Z" fill="#1565b0"/>
<text x="838.7" y="148" font-size="14.4" fill="#1565b0" textLength="40.6" lengthAdjust="spacingAndGlyphs">PEEK</text>
<circle cx="1064" cy="269.2" r="3.2" fill="url(#gb)"/>
<path d="M1064.0 304.4L1064.0 274.5" stroke="#1565b0" stroke-width="1.5" fill="none"/>
<path d="M1064.0 275.3L1067.1 285.6L1064.0 285.2L1060.9 285.6Z" fill="#1565b0"/>
<text x="1052.7" y="318.3" font-size="14.4" fill="#1565b0" textLength="23.2" lengthAdjust="spacingAndGlyphs">PAI</text>
<circle cx="1066.6" cy="114.9" r="3.8" fill="url(#gr)"/>
<path d="M1066.9 90.1L1066.9 110.4" stroke="#fa1616" stroke-width="2.0" fill="none"/>
<path d="M1066.9 109.0L1063.5 98.7L1066.9 99.1L1070.3 98.7Z" fill="#fa1616"/>
<text x="1031.4" y="87.8" font-size="14.4" fill="#fa1616" textLength="66.3" lengthAdjust="spacingAndGlyphs">PI-cyc-iso</text>
<circle cx="1030.9" cy="179.5" r="3.8" fill="url(#gr)"/>
<path d="M1030.9 148.3L1030.9 174.4" stroke="#fa1616" stroke-width="2.0" fill="none"/>
<path d="M1030.9 173.0L1027.5 162.7L1030.9 163.1L1034.3 162.7Z" fill="#fa1616"/>
<text x="996" y="146" font-size="14.4" fill="#fa1616" textLength="68.3" lengthAdjust="spacingAndGlyphs">PI-oxo-iso</text>
<circle cx="1001.6" cy="196.4" r="3.8" fill="url(#gr)"/>
<path d="M1001.2 173.6L1001.2 191.9" stroke="#fa1616" stroke-width="2.0" fill="none"/>
<path d="M1001.2 190.5L997.8 180.2L1001.2 180.6L1004.6 180.2Z" fill="#fa1616"/>
<text x="966.9" y="164.9" font-size="14.4" fill="#fa1616" textLength="55.1" lengthAdjust="spacingAndGlyphs">PEI-<tspan class="i">o</tspan>-M</text>
<circle cx="991.4" cy="196.4" r="3.8" fill="url(#gr)"/>
<circle cx="974.6" cy="200.4" r="3.8" fill="url(#gr)"/>
<circle cx="1033.5" cy="198.4" r="3.8" fill="url(#gr)"/>
<circle cx="1043.4" cy="199.3" r="3.8" fill="url(#gr)"/>
<path d="M1070.1 178.0L1045.7 198.6" stroke="#fa1616" stroke-width="2.0" fill="none"/>
<path d="M1046.8 197.7L1052.5 188.5L1054.4 191.3L1056.9 193.6Z" fill="#fa1616"/>
<text x="1064.9" y="169.5" font-size="14.4" fill="#fa1616" textLength="42.4" lengthAdjust="spacingAndGlyphs">PI-oxo</text>
<path d="M1033.5 217.3L1033.5 201.4" stroke="#fa1616" stroke-width="2.0" fill="none"/>
<path d="M1033.5 202.8L1036.9 213.1L1033.5 212.7L1030.1 213.1Z" fill="#fa1616"/>
<text x="1009.4" y="226.6" font-size="14.4" fill="#fa1616" textLength="61" lengthAdjust="spacingAndGlyphs">PI-oxo-M</text>
<path d="M974.6 223.1L974.6 204.3" stroke="#fa1616" stroke-width="2.0" fill="none"/>
<path d="M974.6 205.7L978.0 216.0L974.6 215.6L971.2 216.0Z" fill="#fa1616"/>
<text x="960.7" y="241.4" font-size="14.4" fill="#fa1616" textLength="22.6" lengthAdjust="spacingAndGlyphs">PEI</text>
<path d="M991.4 247.8L991.4 201.4" stroke="#fa1616" stroke-width="2.0" fill="none"/>
<path d="M991.4 202.8L994.8 213.1L991.4 212.7L988.0 213.1Z" fill="#fa1616"/>
<text x="978" y="263.1" font-size="14.4" fill="#fa1616" textLength="37.2" lengthAdjust="spacingAndGlyphs">PEI-<tspan class="i">p</tspan></text>
<circle cx="1108.2" cy="246.3" r="3.8" fill="url(#gr)"/>
<path d="M1108.2 287.8L1108.2 250.7" stroke="#fa1616" stroke-width="2.0" fill="none"/>
<path d="M1108.2 252.1L1111.6 262.4L1108.2 262.0L1104.8 262.4Z" fill="#fa1616"/>
<text x="1080.6" y="303.5" font-size="14.4" fill="#fa1616" textLength="53.7" lengthAdjust="spacingAndGlyphs">PI-ether</text>
<circle cx="1130.5" cy="243.4" r="3.8" fill="url(#gr)"/>
<path d="M1130.5 204.2L1130.5 239.0" stroke="#fa1616" stroke-width="2.0" fill="none"/>
<path d="M1130.5 237.6L1127.1 227.3L1130.5 227.7L1133.9 227.3Z" fill="#fa1616"/>
<text x="1092.5" y="200.6" font-size="14.4" fill="#fa1616" textLength="62.8" lengthAdjust="spacingAndGlyphs">PI-methyl</text>
<circle cx="1141.8" cy="230.3" r="3.8" fill="url(#gr)"/>
<path d="M1141.8 268.1L1141.8 234.7" stroke="#fa1616" stroke-width="2.0" fill="none"/>
<path d="M1141.8 236.1L1145.2 246.4L1141.8 246.0L1138.4 246.4Z" fill="#fa1616"/>
<text x="1127.6" y="280.6" font-size="14.4" fill="#fa1616" textLength="37.8" lengthAdjust="spacingAndGlyphs">PI-iso</text>
<circle cx="1169.1" cy="254.1" r="3.8" fill="url(#gr)"/>
<path d="M1169.1 221.6L1169.1 249.2" stroke="#fa1616" stroke-width="2.0" fill="none"/>
<path d="M1169.1 247.8L1165.7 237.5L1169.1 237.9L1172.5 237.5Z" fill="#fa1616"/>
<text x="1145.9" y="218.7" font-size="14.4" fill="#fa1616" textLength="31.1" lengthAdjust="spacingAndGlyphs">PI-<tspan class="i">m</tspan></text>
<circle cx="1186" cy="252.4" r="3.8" fill="url(#gr)"/>
<path d="M1198.2 226.0L1188.0 247.6" stroke="#fa1616" stroke-width="2.0" fill="none"/>
<path d="M1188.6 246.3L1189.9 235.5L1192.8 237.4L1196.1 238.4Z" fill="#fa1616"/>
<text x="1190" y="218.7" font-size="14.4" fill="#fa1616" textLength="12.2" lengthAdjust="spacingAndGlyphs">PI</text>
<text x="1118.9" y="85.3" font-size="16.6">T</text><text x="1129" y="89.6" font-size="10.6">g</text><text x="1140.2" y="85.3" font-size="16.6">≥</text><text x="1154.1" y="85.3" font-size="16.6" textLength="47.3" lengthAdjust="spacingAndGlyphs">250°C</text>
<text x="1117.7" y="109.2" font-size="16.6" textLength="31.3" lengthAdjust="spacingAndGlyphs">Gap</text><text x="1154.3" y="109.2" font-size="16.6">≥</text><text x="1168.2" y="109.2" font-size="16.6">3</text><text x="1182.4" y="109.2" font-size="16.6" textLength="20.3" lengthAdjust="spacingAndGlyphs">eV</text>
</g>
<g id="table">
<text x="590.9" y="380.7" class="b" font-size="27.5">c</text>
<rect x="579" y="396" width="681" height="138" fill="#ececee"/>
<rect x="579" y="534" width="681" height="68" fill="#fcf8ea"/>
<rect x="579" y="602" width="681" height="48.5" fill="#daf5ea"/>
<path d="M579 452.3H1260M679.5 396V534M862 396V534M760.5 452V534M943 452V534M1012.5 452V534M1087 452V534M1160 452V534" stroke="#fff" stroke-width="1.6" fill="none" opacity="0.6"/>
<path d="M679.5 534V650.5M760.5 534V650.5M862 534V650.5M943 534V650.5M1012.5 534V650.5M1087 534V650.5M1160 534V650.5" stroke="#fff" stroke-width="1.2" fill="none" opacity="0.35"/>
<text x="738.2" y="431.2" class="b" font-size="17" textLength="58" lengthAdjust="spacingAndGlyphs">Adding</text>
<text x="798.6" y="427.3" font-size="11.3">1</text>
<text x="1016.3" y="430.7" class="b" font-size="17" textLength="81.5" lengthAdjust="spacingAndGlyphs">Replacing</text>
<text x="1100" y="427.5" class="b" font-size="11">2</text>
<text x="584.8" y="488.8" class="b" font-size="18" textLength="89" lengthAdjust="spacingAndGlyphs">Structural</text>
<text x="612.6" y="511.5" class="b" font-size="18" textLength="34.3" lengthAdjust="spacingAndGlyphs">unit</text>
<text x="689.1" y="524.6" class="b" font-size="15.6" textLength="63.4" lengthAdjust="spacingAndGlyphs">Diamine</text>
<text x="765.0" y="524.6" class="b" font-size="15.6" textLength="94.1" lengthAdjust="spacingAndGlyphs">Dianhydride</text>
<text x="872.1" y="524.5" class="b" font-size="15.6" textLength="63.4" lengthAdjust="spacingAndGlyphs">Diamine</text>
<text x="945.0" y="524.5" class="b" font-size="15.6" textLength="63.3" lengthAdjust="spacingAndGlyphs">Diamine</text>
<text x="1019.3" y="524.5" class="b" font-size="15.6" textLength="63.9" lengthAdjust="spacingAndGlyphs">Diamine</text>
<text x="1094.3" y="522.7" class="b" font-size="15.6" textLength="63.3" lengthAdjust="spacingAndGlyphs">Diamine</text>
<text x="1164.0" y="524.2" class="b" font-size="15.6" textLength="94.1" lengthAdjust="spacingAndGlyphs">Dianhydride</text>
<path d="M688.2 466.5L692.7 473.4M700.4 480H714.1L722.4 465.5H738.8L747.4 480.4L738.8 495.4H722.4L714.1 480M717.3 480.2L724 468.4M737.3 468.5L744.1 480.4M724.4 492.6H737" stroke="#111" stroke-width="1" fill="none" stroke-linecap="round"/>
<text x="696" y="485" font-size="11.5" fill="#fa0a0a" text-anchor="middle" stroke="#fa0a0a" stroke-width="0.35">O</text>
<path d="M775.4 463.2L780.6 471.5M790.8 478.7H802.5L811.5 463.2H829.7L838.3 478.7L829.7 494.4H811.5L802.5 478.7M805.8 478.9L813.2 466.2M828 466.3L835 478.8M813.4 491.5H827.8" stroke="#111" stroke-width="1" fill="none" stroke-linecap="round"/>
<text x="784.4" y="483.5" font-size="11.5" fill="#3b7de0" text-anchor="middle" stroke="#3b7de0" stroke-width="0.35">O</text>
<path d="M900.8 463.8L915.3 471.9V489.2L900.8 497.3L886.8 489.2V471.9ZM886.8 471.9L872.3 463.8M915.3 471.9L929.8 464.1M889.6 474V487.2M902.2 467.1L912.7 473M902.2 494L912.7 488.1" stroke="#111" stroke-width="1" fill="none" stroke-linecap="round"/>
<text x="970.4" y="470.1" class="b" font-size="13">H</text><text x="980.6" y="472.6" class="b" font-size="7.5">2</text>
<text x="970" y="485.5" class="b" font-size="13">C</text>
<path d="M956.4 490.6L966.9 484.6M982.3 484.6L993.6 490.6" stroke="#111" stroke-width="1" fill="none" stroke-linecap="round"/>
<text x="1045.6" y="468.4" class="b" font-size="11.3" textLength="16.6" lengthAdjust="spacingAndGlyphs">CH</text><text x="1063.2" y="470.8" class="b" font-size="7.5">3</text>
<text x="1046" y="487" class="b" font-size="11.3">C</text>
<text x="1045.6" y="506.8" class="b" font-size="11.3" textLength="16.6" lengthAdjust="spacingAndGlyphs">CH</text><text x="1063.2" y="509.2" class="b" font-size="7.5">3</text>
<path d="M1030.4 482.3H1043.1M1057.6 482.3H1070.3M1050.3 471V475.2M1050.3 490.1V494.6" stroke="#111" stroke-width="1" fill="none" stroke-linecap="round"/>
<text x="1126" y="463.3" class="b" font-size="10.3" textLength="13.6" lengthAdjust="spacingAndGlyphs">CH</text><text x="1140.6" y="465.2" class="b" font-size="6.5">3</text>
<path d="M1129.6 475.1L1144.8 483.3V500.4L1129.6 508.6L1114.6 500.4V483.3ZM1129.6 475.1V464.7M1114.6 483.3L1099.1 475.1M1144.8 483.3L1160 475.1M1117.4 485.4V498.4M1131 478.7L1142 484.7M1131 505L1142 499" stroke="#111" stroke-width="1" fill="none" stroke-linecap="round"/>
<path d="M1210.8 461.2L1228.2 471.1V490.4L1210.8 500L1193.9 490.4V471.1Z" stroke="#111" stroke-width="1" fill="none" stroke-linecap="round"/>
<text x="599.3" y="575.1" class="b i" font-size="17.8">E</text><text x="611.7" y="579.6" class="b" font-size="11.5">g</text><text x="624.6" y="575.1" class="b" font-size="17.8" textLength="35.6" lengthAdjust="spacingAndGlyphs">(eV)</text>
<text x="601.6" y="634.3" class="b i" font-size="17.8">T</text><text x="612.5" y="638.8" class="b" font-size="11.5">g</text><text x="625.2" y="634.3" class="b" font-size="17.8" textLength="33.3" lengthAdjust="spacingAndGlyphs">(°C)</text>
<text x="693.1" y="575.1" class="b" font-size="18" fill="#fa1616" textLength="47.3" lengthAdjust="spacingAndGlyphs">+0.06</text>
<text x="740.5" y="570.1" class="b" font-size="12">3</text>
<text x="784.7" y="575.1" class="b" font-size="18" fill="#fa1616" textLength="46.9" lengthAdjust="spacingAndGlyphs">+0.56</text>
<text x="831.7" y="570.1" class="b" font-size="12">3</text>
<text x="695.4" y="633.9" class="b" font-size="18" fill="#1a6fc6" textLength="43.1" lengthAdjust="spacingAndGlyphs">-51.4</text>
<text x="738.6" y="628.9" class="b" font-size="12">3</text>
<text x="787.7" y="633.9" class="b" font-size="18" fill="#1a6fc6" textLength="42.5" lengthAdjust="spacingAndGlyphs">-94.1</text>
<text x="830.3" y="628.9" class="b" font-size="12">3</text>
<text x="880.9" y="563.9" class="b" font-size="18" fill="#1a6fc6" textLength="43.3" lengthAdjust="spacingAndGlyphs">-0.02</text>
<text x="869.5" y="586.3" class="b" font-size="18" fill="#1a6fc6" textLength="47.9" lengthAdjust="spacingAndGlyphs">~0.04</text>
<text x="917.5" y="581.3" class="b" font-size="12">3,4</text>
<text x="952.7" y="563.9" class="b" font-size="18" fill="#fa1616" textLength="46.6" lengthAdjust="spacingAndGlyphs">+0.01</text>
<text x="949.0" y="586.3" class="b" font-size="18" fill="#fa1616" textLength="48.2" lengthAdjust="spacingAndGlyphs">~0.09</text>
<text x="997.3" y="581.3" class="b" font-size="12">3</text>
<text x="1025.8" y="563.9" class="b" font-size="18" fill="#fa1616" textLength="46.6" lengthAdjust="spacingAndGlyphs">+0.07</text>
<text x="1017.4" y="586.3" class="b" font-size="18" fill="#fa1616" textLength="48.2" lengthAdjust="spacingAndGlyphs">~0.08</text>
<text x="1065.7" y="581.3" class="b" font-size="12">3,4</text>
<text x="1097.4" y="575.1" class="b" font-size="18" fill="#fa1616" textLength="47.3" lengthAdjust="spacingAndGlyphs">+0.04</text>
<text x="1144.8" y="570.1" class="b" font-size="12">4</text>
<text x="1183.1" y="575.1" class="b" font-size="18" fill="#fa1616" textLength="47.9" lengthAdjust="spacingAndGlyphs">+1.16</text>
<text x="1231.1" y="570.1" class="b" font-size="12">3</text>
<text x="880.9" y="621.9" class="b" font-size="18" fill="#1a6fc6" textLength="43.3" lengthAdjust="spacingAndGlyphs">-10.9</text>
<text x="869.5" y="644.8" class="b" font-size="18" fill="#1a6fc6" textLength="47.1" lengthAdjust="spacingAndGlyphs">~11.2</text>
<text x="916.7" y="639.8" class="b" font-size="12">3,4</text>
<text x="960.2" y="621.9" class="b" font-size="18" fill="#1a6fc6" textLength="32.6" lengthAdjust="spacingAndGlyphs">-6.7</text>
<text x="949.0" y="644.8" class="b" font-size="18" fill="#1a6fc6" textLength="48.2" lengthAdjust="spacingAndGlyphs">~36.7</text>
<text x="997.3" y="639.8" class="b" font-size="12">3</text>
<text x="1025.8" y="621.9" class="b" font-size="18" fill="#fa1616" textLength="45.7" lengthAdjust="spacingAndGlyphs">+11.1</text>
<text x="1017.4" y="644.8" class="b" font-size="18" fill="#fa1616" textLength="48.2" lengthAdjust="spacingAndGlyphs">~21.3</text>
<text x="1065.7" y="639.8" class="b" font-size="12">3,4</text>
<text x="1097.4" y="633.6" class="b" font-size="18" fill="#fa1616" textLength="47.3" lengthAdjust="spacingAndGlyphs">+17.2</text>
<text x="1144.8" y="628.6" class="b" font-size="12">4</text>
<text x="1186.7" y="633.9" class="b" font-size="18" fill="#1a6fc6" textLength="41.5" lengthAdjust="spacingAndGlyphs">-78.9</text>
<text x="1228.3" y="628.9" class="b" font-size="12">3</text>
<text x="596.6" y="672.4" class="b" font-size="10.5">1</text>
<text x="607" y="677.6" class="b" font-size="15.6" textLength="325.5" lengthAdjust="spacingAndGlyphs" xml:space="preserve">Add structural unit in different monomers</text>
<text x="596.6" y="692.4" class="b" font-size="10.5">2</text>
<text x="607" y="697.6" class="b" font-size="15.6" textLength="406" lengthAdjust="spacingAndGlyphs" xml:space="preserve">Replace the <tspan class="i">p</tspan>-benzene or ether bond in the diamine</text>
<text x="596.6" y="712.4" class="b" font-size="10.5">3</text>
<text x="607" y="717.6" class="b" font-size="15.6" textLength="404" lengthAdjust="spacingAndGlyphs" xml:space="preserve">Relative to the value of  regular PI (A6-B1) structure</text>
<text x="596.6" y="732.4" class="b" font-size="10.5">4</text>
<text x="607" y="737.6" class="b" font-size="15.6" textLength="424" lengthAdjust="spacingAndGlyphs" xml:space="preserve">Relative to the value of  regular PEI (A10-B5) structure</text>
</g>
</svg></body></html>
